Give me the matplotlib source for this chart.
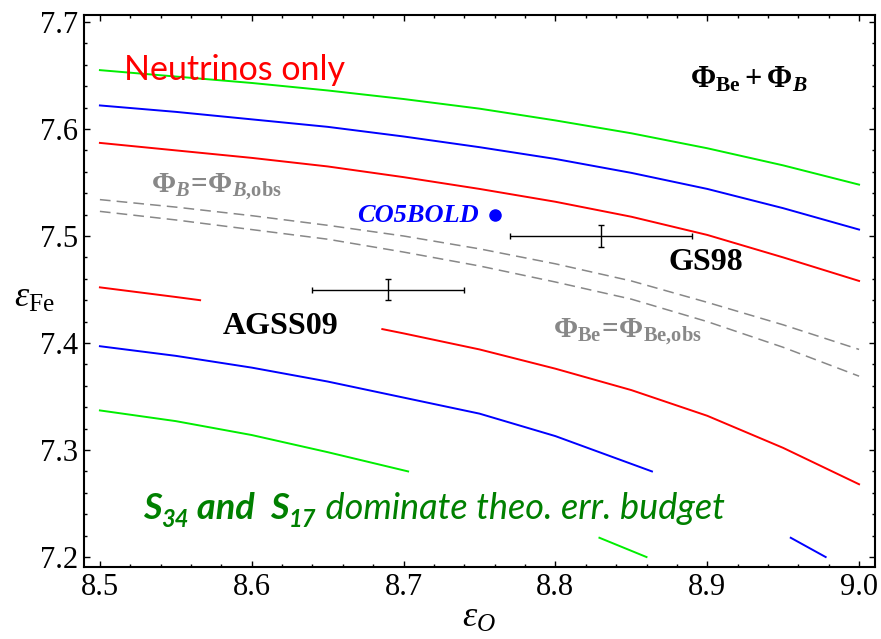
import numpy as np
import matplotlib
matplotlib.use("Agg")
import matplotlib.pyplot as plt
from matplotlib.ticker import MultipleLocator

plt.rcParams['font.family'] = 'Liberation Serif'
plt.rcParams['mathtext.fontset'] = 'custom'
plt.rcParams['mathtext.rm'] = 'Liberation Serif:bold'
plt.rcParams['mathtext.it'] = 'Liberation Serif:bold:italic'
plt.rcParams['mathtext.bf'] = 'Liberation Serif:bold'
plt.rcParams['mathtext.sf'] = 'Liberation Serif:italic'
plt.rcParams['mathtext.tt'] = 'Liberation Serif'

nan = np.nan

# contour lines (nan = gap left by a label)
x_top = [8.50, 8.55, 8.60, 8.65, 8.70, 8.75, 8.80, 8.85, 8.90, 8.95, 9.00]
green_top = [7.655, 7.649, 7.643, 7.636, 7.628, 7.619, 7.608, 7.596, 7.582, 7.566, 7.548]
blue_top = [7.622, 7.616, 7.609, 7.602, 7.593, 7.583, 7.572, 7.559, 7.544, 7.526, 7.506]
red_top = [7.587, 7.580, 7.573, 7.565, 7.555, 7.544, 7.532, 7.518, 7.501, 7.480, 7.458]
dash_b = [7.534, 7.527, 7.519, 7.510, 7.500, 7.488, 7.474, 7.458, 7.438, 7.417, 7.394]
dash_be = [7.523, 7.515, 7.506, 7.497, 7.485, 7.472, 7.457, 7.441, 7.420, 7.396, 7.369]

x_red_low = [8.50, 8.55, 8.566, nan, 8.686, 8.70, 8.75, 8.80, 8.85, 8.90, 8.95, 9.00]
red_low = [7.452, 7.443, 7.440, nan, 7.413, 7.409, 7.394, 7.376, 7.356, 7.332, 7.302, 7.268]

x_blue_low = [8.50, 8.55, 8.60, 8.65, 8.70, 8.75, 8.80, 8.8636, nan, 8.955, 8.978]
blue_low = [7.397, 7.388, 7.377, 7.364, 7.349, 7.334, 7.313, 7.280, nan, 7.218, 7.200]

x_green_low = [8.50, 8.55, 8.60, 8.65, 8.703, nan, 8.829, 8.86]
green_low = [7.337, 7.327, 7.314, 7.298, 7.280, nan, 7.218, 7.200]

# abundance determinations
models = ["AGSS09", "GS98"]
eps_o = [8.69, 8.83]
eps_o_err = [0.05, 0.06]
eps_fe = [7.45, 7.50]
eps_fe_err = [0.01, 0.01]
co5bold = (8.76, 7.52)

fig = plt.figure(figsize=(8.81, 6.39), dpi=100)
ax = fig.add_axes([0.0953, 0.1127, 0.8979, 0.8638])

lw = 1.4
ax.plot(x_top, green_top, color='#00ee00', lw=lw)
ax.plot(x_top, blue_top, color='#0000ff', lw=lw)
ax.plot(x_top, red_top, color='#ff0000', lw=lw)
ax.plot(x_red_low, red_low, color='#ff0000', lw=lw)
ax.plot(x_blue_low, blue_low, color='#0000ff', lw=lw)
ax.plot(x_green_low, green_low, color='#00ee00', lw=lw)
for yy in (dash_b, dash_be):
    ln, = ax.plot(x_top, yy, color='#888888', lw=1.1)
    ln.set_dashes((7, 4))

ax.errorbar(eps_o, eps_fe, xerr=eps_o_err, yerr=eps_fe_err, fmt='none',
            ecolor='black', elinewidth=1.0, capsize=2.5, capthick=1.0)
ax.plot(*co5bold, 'o', color='#0000ff', ms=8)

# labels
ax.text(8.5158, 7.6458, "Neutrinos only", color='#ff0000', fontsize=24.5,
        family=['Lato', 'DejaVu Sans'], va='baseline')
ax.text(8.9276, 7.6458, r"$\Phi_{\mathrm{Be}}+\Phi_{B}$", fontsize=22,
        ha='center', va='center')
ax.text(8.577, 7.5458, r"$\Phi_{B}\!=\!\Phi_{B{,}\mathrm{obs}}$", fontsize=21,
        color='#888888', ha='center', va='center')
ax.text(8.8474, 7.4103, r"$\Phi_{\mathrm{Be}}\!=\!\Phi_{\mathrm{Be}{,}\mathrm{obs}}$",
        fontsize=21, color='#888888', ha='center', va='center')
ax.text(8.7092, 7.5187, "CO5BOLD", color='#0000ff', fontsize=19,
        fontweight='bold', fontstyle='italic', ha='center', va='center')
ax.text(8.619, 7.415, models[0], fontsize=23, fontweight='bold', ha='center', va='center')
ax.text(8.8993, 7.4757, models[1], fontsize=23, fontweight='bold', ha='center', va='center')

# green note, built piece by piece
green = '#008000'
sans = ['Lato', 'DejaVu Sans']
pieces = [("S", 26, 'bold', 0), ("34", 17, 'bold', -5.5), (" and  ", 26, 'bold', 0),
          ("S", 26, 'bold', 0), ("17", 17, 'bold', -5.5),
          (" dominate theo. err. budget", 26, 'normal', 0)]
ybase = 7.2355
t = ax.text(8.5283, ybase, pieces[0][0], color=green, fontsize=pieces[0][1],
            fontweight=pieces[0][2], fontstyle='italic', family=sans, va='baseline')
for s, size, weight, dy in pieces[1:]:
    t = ax.annotate(s, xy=(1, ybase), xycoords=(t, 'data'), xytext=(0, dy),
                    textcoords='offset points', color=green, fontsize=size,
                    fontweight=weight, fontstyle='italic', family=sans, va='baseline')

ax.set_xlim(8.4895, 9.0105)
ax.set_ylim(7.1907, 7.7065)
ax.xaxis.set_major_locator(MultipleLocator(0.1))
ax.xaxis.set_minor_locator(MultipleLocator(0.02))
ax.yaxis.set_major_locator(MultipleLocator(0.1))
ax.yaxis.set_minor_locator(MultipleLocator(0.02))
ax.tick_params(which='both', direction='in', top=True, right=True, width=1.0, labelsize=22)
ax.tick_params(which='major', length=4.5, pad=4)
ax.tick_params(which='minor', length=2.2)
for sp in ax.spines.values():
    sp.set_linewidth(1.5)

ax.set_xlabel(r"$\mathsf{\varepsilon_{O}}$", fontsize=26, labelpad=0)
ax.set_ylabel(r"$\mathsf{\varepsilon}_{\mathtt{Fe}}$", fontsize=26, rotation=0,
              ha='center', va='center')
ax.yaxis.set_label_coords(-0.062, 0.487)

fig.savefig("out.png", dpi=100)
